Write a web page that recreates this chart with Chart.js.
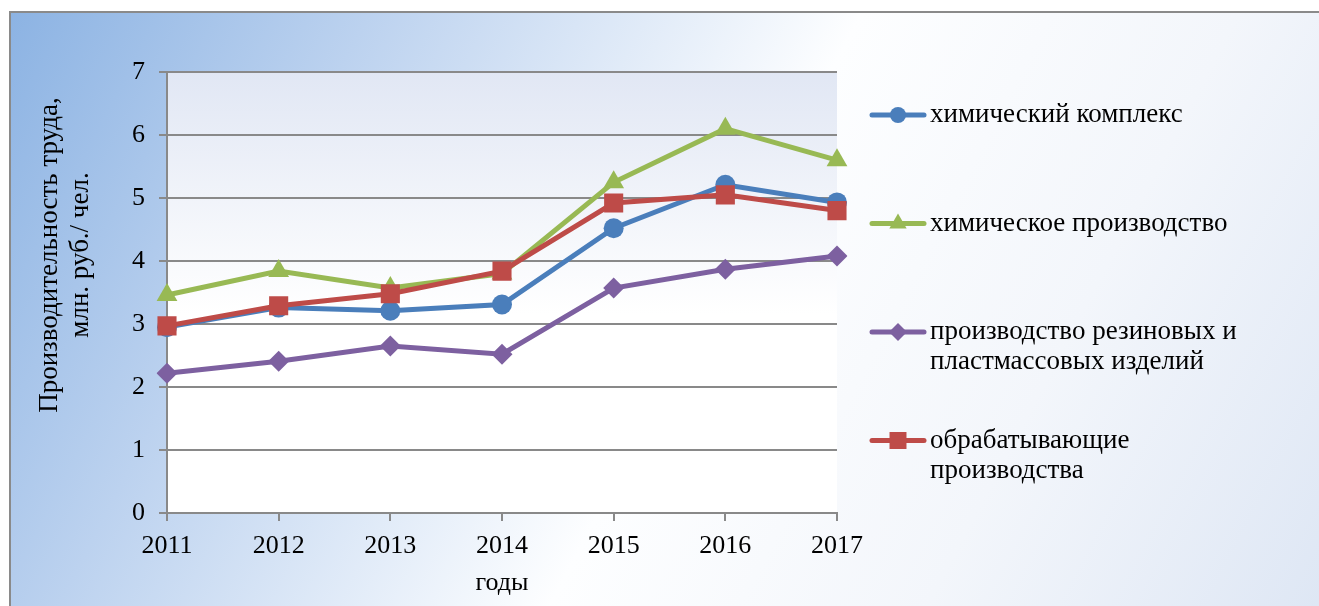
<!DOCTYPE html>
<html><head><meta charset="utf-8">
<script src="https://cdn.jsdelivr.net/npm/chart.js@4/dist/chart.umd.min.js"></script>
<style>html,body{margin:0;padding:0;background:#fff}canvas{display:block}</style>
</head><body>
<canvas id="c" width="1319" height="606"></canvas>
<script>
const years = ['2011','2012','2013','2014','2015','2016','2017'];
const chemComplex = [2.95, 3.26, 3.21, 3.31, 4.52, 5.21, 4.93];
const chemProduction = [3.46, 3.84, 3.57, 3.80, 5.25, 6.10, 5.60];
const rubberPlastic = [2.22, 2.41, 2.65, 2.52, 3.57, 3.87, 4.08];
const manufacturing = [2.97, 3.29, 3.48, 3.84, 4.92, 5.05, 4.80];
const seriesNames = ['химический комплекс', 'химическое производство', 'производство резиновых и\nпластмассовых изделий', 'обрабатывающие\nпроизводства'];
const yTicksMin = 0, yTicksMax = 7, yTicksStep = 1;
const yTitle = ['Производительность труда,', 'млн. руб./ чел.'];
const xTitle = 'годы';

const FONT = "'Liberation Serif', 'Times New Roman', serif";
const FS = 26;
const LFS = 27;
const GRID = '#898989';

const series = [
  {data: chemComplex, color: '#4a7ebb', style: 'circle', r: 10, lr: 8, order: 1},
  {data: chemProduction, color: '#98b954', style: 'triangle', r: 12, lr: 10, order: 2},
  {data: rubberPlastic, color: '#7d60a0', style: 'rectRot', r: 10.5, lr: 9, order: 3},
  {data: manufacturing, color: '#be4b48', style: 'rect', r: 13.5, lr: 12, order: 0}
];

const bgPlugin = {
  id: 'bg',
  beforeDraw(chart) {
    const ctx = chart.ctx, W = chart.width, H = chart.height;
    ctx.save();
    ctx.fillStyle = '#ffffff';
    ctx.fillRect(0, 0, W, H);
    const g = ctx.createLinearGradient(10, 12, 10 + 0.885 * 1450, 12 + 0.466 * 1450);
    g.addColorStop(0, '#8cb3e3');
    g.addColorStop(0.22, '#bcd2ef');
    g.addColorStop(0.52, '#fdfeff');
    g.addColorStop(0.75, '#f3f6fb');
    g.addColorStop(1, '#dde6f4');
    ctx.fillStyle = g;
    ctx.fillRect(10, 12, W, H);
    ctx.strokeStyle = '#8a8a8a';
    ctx.lineWidth = 2;
    ctx.strokeRect(10, 12, W + 10, H + 10);
    const a = chart.chartArea;
    const pg = ctx.createLinearGradient(0, a.top, 0, a.bottom);
    pg.addColorStop(0, '#e1e7f4');
    pg.addColorStop(0.55, '#ffffff');
    pg.addColorStop(1, '#ffffff');
    ctx.fillStyle = pg;
    ctx.fillRect(a.left, a.top, a.right - a.left, a.bottom - a.top);
    ctx.restore();
  },
  afterDraw(chart) {
    const ctx = chart.ctx;
    ctx.save();
    ctx.fillStyle = '#000';
    ctx.font = LFS + 'px ' + FONT;
    ctx.textAlign = 'center';
    ctx.textBaseline = 'middle';
    ctx.translate(50, 255);
    ctx.rotate(-Math.PI / 2);
    yTitle.forEach((t, i) => ctx.fillText(t, 0, i * 31));
    ctx.restore();
    ctx.save();
    ctx.font = LFS + 'px ' + FONT;
    ctx.textBaseline = 'middle';
    ctx.textAlign = 'left';
    series.forEach((s, i) => {
      const y = 115 + i * 108.5;
      ctx.strokeStyle = s.color;
      ctx.fillStyle = s.color;
      ctx.lineWidth = 5;
      ctx.lineCap = 'round';
      ctx.beginPath();
      ctx.moveTo(872, y);
      ctx.lineTo(924, y);
      ctx.stroke();
      Chart.helpers.drawPoint(ctx, {pointStyle: s.style, radius: s.lr, rotation: 0, borderWidth: 0}, 898, y);
      ctx.fillStyle = '#000';
      seriesNames[i].split('\n').forEach((line, k) => ctx.fillText(line, 930, y + k * 30));
    });
    ctx.restore();
  }
};

new Chart(document.getElementById('c'), {
  type: 'line',
  data: {
    labels: years,
    datasets: series.map((s, i) => ({
      label: seriesNames[i].replace('\n', ' '),
      data: s.data,
      borderColor: s.color,
      backgroundColor: s.color,
      borderWidth: 5,
      tension: 0,
      fill: false,
      pointStyle: s.style,
      pointRadius: s.r,
      pointHoverRadius: s.r,
      pointBorderWidth: 0,
      pointBackgroundColor: s.color,
      order: s.order
    }))
  },
  options: {
    responsive: false,
    devicePixelRatio: 1,
    animation: false,
    events: [],
    layout: {padding: {left: 0, top: 72, right: 482, bottom: 0}},
    plugins: {legend: {display: false}, tooltip: {enabled: false}},
    scales: {
      x: {
        offset: false,
        grid: {drawOnChartArea: false, drawTicks: true, tickLength: 8, color: GRID, lineWidth: 2},
        border: {color: GRID, width: 2},
        ticks: {color: '#000', font: {family: FONT, size: FS}, padding: 10, maxRotation: 0, autoSkip: false},
        title: {display: true, text: xTitle, color: '#000', font: {family: FONT, size: FS}, padding: {top: 0, bottom: 7}},
        afterFit(s) { s.height = 93; }
      },
      y: {
        min: yTicksMin, max: yTicksMax,
        grid: {color: GRID, lineWidth: 2, tickLength: 8},
        border: {color: GRID, width: 2},
        ticks: {stepSize: yTicksStep, color: '#000', font: {family: FONT, size: FS}, padding: 14},
        afterFit(s) { s.width = 167; }
      }
    }
  },
  plugins: [bgPlugin]
});
</script>
</body></html>
